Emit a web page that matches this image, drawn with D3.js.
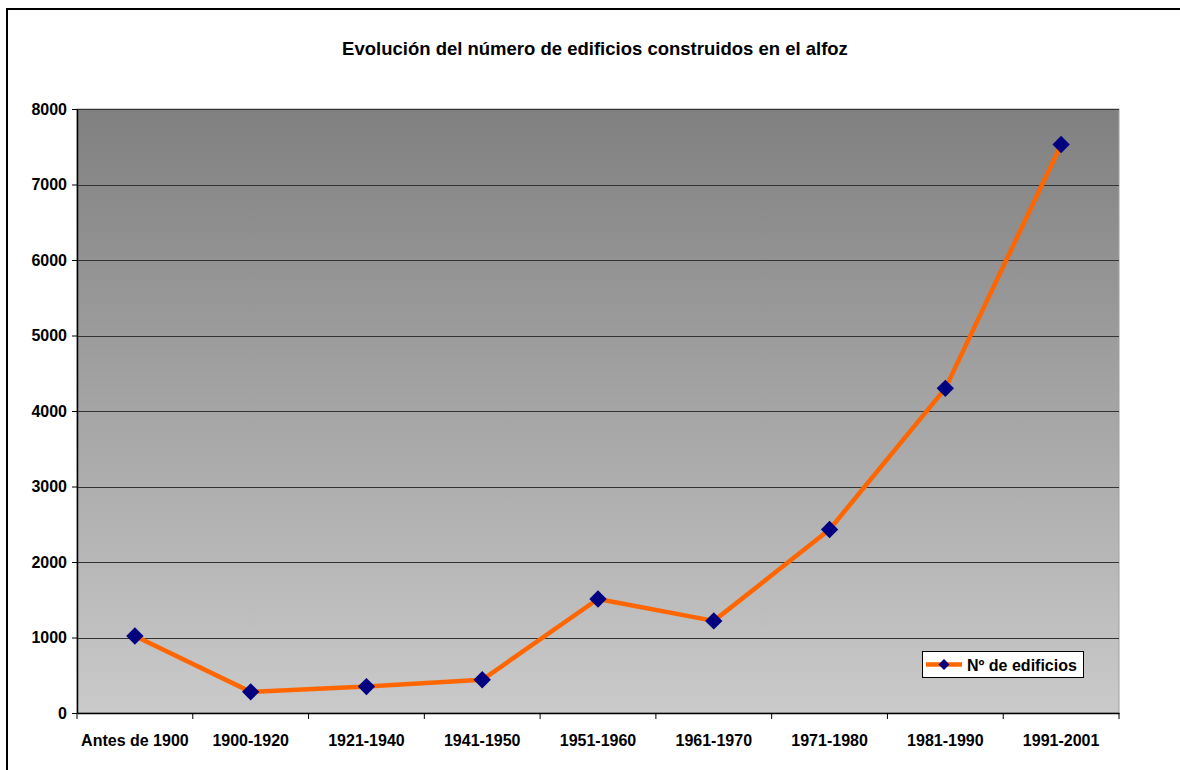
<!DOCTYPE html>
<html><head><meta charset="utf-8">
<script src="https://cdn.jsdelivr.net/npm/d3@7"></script>
<style>body{margin:0;background:#fff}svg{display:block}text{font-family:Arial,"Liberation Sans",sans-serif}</style>
</head><body>
<script>
const categories = ["Antes de 1900","1900-1920","1921-1940","1941-1950","1951-1960","1961-1970","1971-1980","1981-1990","1991-2001"];
const values = [1020, 280, 350, 440, 1510, 1220, 2430, 4300, 7530];
const yTicks = [0,1000,2000,3000,4000,5000,6000,7000,8000];
const title = "Evolución del número de edificios construidos en el alfoz";
const seriesName = "Nº de edificios";

const W = 1180, H = 770;
const m = {left:77, top:109, right:1119, bottom:713};
const svg = d3.select("body").append("svg").attr("width",W).attr("height",H);

svg.append("rect").attr("x",7).attr("y",9).attr("width",1200).attr("height",800)
  .attr("fill","#fff").attr("stroke","#000").attr("stroke-width",2);

const defs = svg.append("defs");
const g = defs.append("linearGradient").attr("id","bg").attr("x1",0).attr("x2",0).attr("y1",0).attr("y2",1);
g.append("stop").attr("offset","0%").attr("stop-color","#808080");
g.append("stop").attr("offset","100%").attr("stop-color","#cacaca");

const x = d3.scaleBand().domain(categories).range([m.left,m.right]);
const y = d3.scaleLinear().domain([0,8000]).range([m.bottom,m.top]);

svg.append("rect").attr("x",m.left).attr("y",m.top).attr("width",m.right-m.left).attr("height",m.bottom-m.top)
  .attr("fill","url(#bg)").attr("stroke","#a0a0a0").attr("stroke-width",1);

svg.append("g").selectAll("line").data(yTicks.slice(1)).join("line")
  .attr("x1",m.left).attr("x2",m.right).attr("y1",d=>Math.round(y(d))+0.5).attr("y2",d=>Math.round(y(d))+0.5)
  .attr("stroke","#333").attr("stroke-width",1);

const yAxis = svg.append("g").attr("transform",`translate(${m.left},0)`)
  .call(d3.axisLeft(y).tickValues(yTicks).tickSize(5).tickSizeOuter(0).tickFormat(d3.format("d")));
yAxis.select(".domain").attr("stroke","#000").attr("stroke-width",1.5);
yAxis.selectAll("line").attr("stroke","#000");
yAxis.selectAll("text").attr("font-size",16).attr("font-weight","bold").attr("fill","#000").attr("x",-10);

const xAxis = svg.append("g").attr("transform",`translate(0,${m.bottom})`)
  .call(d3.axisBottom(x).tickSize(0).tickSizeOuter(0));
xAxis.select(".domain").attr("stroke","#000").attr("stroke-width",1.5);
xAxis.selectAll("text").attr("font-size",16).attr("font-weight","bold").attr("fill","#000").attr("dy",0).attr("y",33);
svg.append("g").selectAll("line").data(d3.range(categories.length+1)).join("line")
  .attr("x1",i=>m.left + i*x.step()).attr("x2",i=>m.left + i*x.step())
  .attr("y1",m.bottom).attr("y2",m.bottom+6).attr("stroke","#000");

const cx = d => x(d) + x.bandwidth()/2;
const line = d3.line().x((d,i)=>cx(categories[i])).y(d=>y(d));
svg.append("path").datum(values).attr("d",line).attr("fill","none")
  .attr("stroke","#ff6600").attr("stroke-width",4.5).attr("stroke-linejoin","round");

const diamond = d3.symbol().type(d3.symbolSquare).size(150);
svg.append("g").selectAll("path").data(values).join("path")
  .attr("d",diamond).attr("transform",(d,i)=>`translate(${cx(categories[i])},${y(d)}) rotate(45)`)
  .attr("fill","#000080");

svg.append("text").attr("x",595).attr("y",55).attr("text-anchor","middle")
  .attr("font-size",18.5).attr("font-weight","bold").text(title);

const lg = svg.append("g").attr("transform","translate(922,651)");
lg.append("rect").attr("x",0.5).attr("y",0.5).attr("width",161).attr("height",26).attr("fill","#fff").attr("stroke","#000");
lg.append("line").attr("x1",4).attr("x2",40).attr("y1",13.5).attr("y2",13.5).attr("stroke","#ff6600").attr("stroke-width",4.5);
lg.append("path").attr("d",d3.symbol().type(d3.symbolSquare).size(60)).attr("transform","translate(22,13.5) rotate(45)").attr("fill","#000080");
lg.append("text").attr("x",45).attr("y",19.5).attr("font-size",16).attr("font-weight","bold").text(seriesName);
</script>
</body></html>
